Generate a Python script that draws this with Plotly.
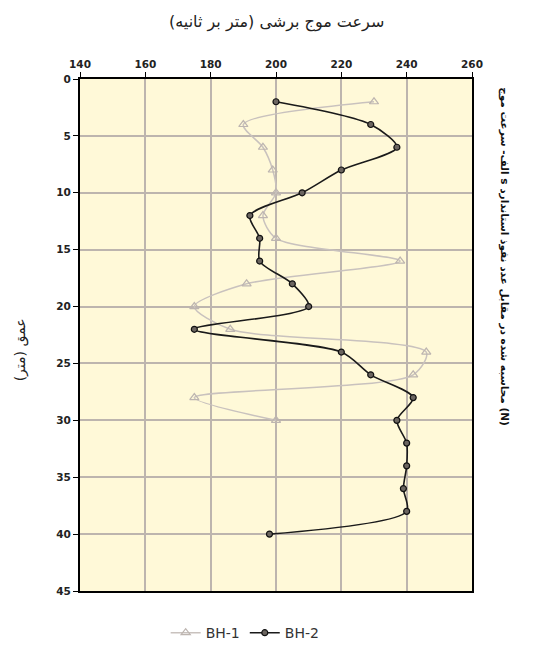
import plotly.graph_objects as go

# Data
depth_bh1 = [2, 4, 6, 8, 10, 12, 14, 16, 18, 20, 22, 24, 26, 28, 30]
vs_bh1 = [230, 190, 196, 199, 200, 196, 200, 238, 191, 175, 186, 246, 242, 175, 200]

depth_bh2 = [2, 4, 6, 8, 10, 12, 14, 16, 18, 20, 22, 24, 26, 28, 30, 32, 34, 36, 38, 40]
vs_bh2 = [200, 229, 237, 220, 208, 192, 195, 195, 205, 210, 175, 220, 229, 242, 237, 240, 240, 239, 240, 198]

x_ticks = [140, 160, 180, 200, 220, 240, 260]
y_ticks = [0, 5, 10, 15, 20, 25, 30, 35, 40, 45]

top_title = "سرعت موج برشی (متر بر ثانیه)"
left_title = "عمق (متر)"
right_title = "الف- سرعت موج s محاسبه شده در مقابل عدد نفوذ استاندارد (N)"

fig = go.Figure()
fig.add_trace(go.Scatter(
    x=vs_bh1, y=depth_bh1, name="BH-1", mode="lines+markers",
    line=dict(color="#C9C2BE", width=1.5, shape="spline", smoothing=0.8),
    marker=dict(symbol="triangle-up-open", size=8, color="#BDB5B0", line=dict(width=1.2)),
))
fig.add_trace(go.Scatter(
    x=vs_bh2, y=depth_bh2, name="BH-2", mode="lines+markers",
    line=dict(color="#1a1a1a", width=1.6, shape="spline", smoothing=0.8),
    marker=dict(symbol="circle", size=6, color="#6b6560", line=dict(color="#111111", width=1.2)),
))

grid_col = "#BDB5AE"
fig.update_layout(
    width=533, height=646,
    margin=dict(l=80, r=61, t=79, b=55),
    paper_bgcolor="white",
    plot_bgcolor="#FFF9D8",
    showlegend=True,
    legend=dict(orientation="h", x=0.46, xanchor="center", xref="container",
                y=0.02, yanchor="middle", yref="container",
                font=dict(family="DejaVu Sans", size=14, color="#333333")),
    xaxis=dict(
        range=[140, 260], side="top", tickvals=x_ticks,
        showgrid=True, gridcolor=grid_col, gridwidth=1.5,
        showline=True, linecolor="black", linewidth=2, mirror=True,
        ticks="outside", ticklen=5, tickcolor="black",
        tickfont=dict(family="DejaVu Sans", size=10.5, color="#222222", weight="bold"),
        zeroline=False,
    ),
    yaxis=dict(
        range=[45, 0], tickvals=y_ticks,
        showgrid=True, gridcolor=grid_col, gridwidth=1.5,
        showline=True, linecolor="black", linewidth=2, mirror=True,
        ticks="outside", ticklen=5, tickcolor="black",
        tickfont=dict(family="DejaVu Sans", size=10.5, color="#222222", weight="bold"),
        zeroline=False,
    ),
    annotations=[
        dict(text=top_title, xref="paper", yref="paper", x=0.5, y=1.0, yshift=57,
             xanchor="center", yanchor="middle",
             showarrow=False, font=dict(family="DejaVu Sans", size=16, color="#222222")),
        dict(text=left_title, xref="paper", yref="paper", x=0, xshift=-60, y=0.47,
             xanchor="center", yanchor="middle",
             textangle=-90, showarrow=False,
             font=dict(family="DejaVu Sans", size=14, color="#222222")),
        dict(text=right_title, xref="paper", yref="paper", x=1, xshift=33, y=0.654,
             xanchor="center", yanchor="middle",
             textangle=90, showarrow=False,
             font=dict(family="DejaVu Sans", size=10.5, color="#111111", weight="bold")),
    ],
)

fig.write_html("out.html", config={"displayModeBar": False},
               post_script="document.body.style.margin='0';")
